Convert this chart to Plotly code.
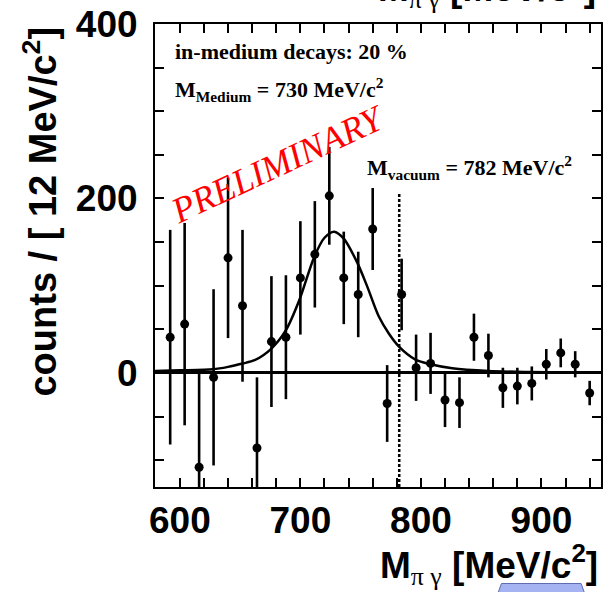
import plotly.graph_objects as go

# ---- data ----
mass = [592, 604, 616, 628, 640, 652, 664, 676, 688, 700, 712, 724, 736, 748, 760,
        772, 784, 796, 808, 820, 832, 844, 856, 868, 880, 892, 904, 916, 928, 940]
counts = [41, 56, -108, -5, 132, 77, -86, 36, 41, 109, 136, 203, 109, 90, 165,
          -35, 90, 6, 11, -31, -34, 41, 20, -17, -15, -12, 10, 23, 10, -23]
errors = [123, 116, 108, 101, 92, 87, 81, 75, 71, 65, 61, 56, 53, 49, 47,
          44, 41, 38, 35, 31, 29, 27, 25, 23, 21, 19.5, 17.5, 16.5, 15, 14]

fit_x = [579.4, 600, 627.5, 640, 652, 662, 676, 688, 699, 711.5, 720, 728, 736,
         747, 755.5, 765, 773.5, 782, 795.5, 808, 826, 856, 889, 920, 949.4]
fit_y = [2.3, 3.0, 4.2, 7.0, 10.8, 14.6, 28, 49, 83, 133, 155, 162, 154,
         127, 99, 65, 45, 30, 15.4, 10, 5.4, 2.3, 1.1, 0.6, 0.4]

m_vacuum = 782
x_ticks = [600, 700, 800, 900]
y_ticks = [0, 200, 400]

# ---- geometry helpers (pixel -> paper) ----
L, T, W, H = 155, 24, 448, 463
def px(xp):
    return (xp - L) / W
def py(yp):
    return (T + H - yp) / H

fig = go.Figure()

fig.add_trace(go.Scatter(
    x=fit_x, y=fit_y, mode="lines", line=dict(color="black", width=2.5, shape="spline", smoothing=0.8),
    hoverinfo="skip", showlegend=False))

fig.add_trace(go.Scatter(
    x=mass, y=counts, mode="markers",
    marker=dict(color="black", size=9),
    error_y=dict(type="data", array=errors, color="black", thickness=2.6, width=0),
    showlegend=False))

# dotted vacuum mass line
fig.add_shape(type="line", xref="x", yref="y", x0=m_vacuum, x1=m_vacuum, y0=-130.7, y1=205.7,
              line=dict(color="black", width=2.5, dash="3px,2px"))

serif = "Liberation Serif"
sans = "Liberation Sans"

ann = []
ann.append(dict(text="in-medium decays: 20 %", x=px(173), y=py(51), xanchor="left", yanchor="middle",
                font=dict(family=serif, size=22, color="black", weight="bold")))
ann.append(dict(text="M<sub>Medium</sub> = 730 MeV/c<sup>2</sup>", x=px(173), y=py(89), xanchor="left", yanchor="middle",
                font=dict(family=serif, size=22, color="black", weight="bold")))
ann.append(dict(text="M<sub>vacuum</sub> = 782 MeV/c<sup>2</sup>", x=px(366), y=py(167), xanchor="left", yanchor="middle",
                font=dict(family=serif, size=22, color="black", weight="bold")))
ann.append(dict(text="PRELIMINARY", x=px(279), y=py(164), xanchor="center", yanchor="middle", textangle=-25,
                font=dict(family=serif, size=36, color="#ff0000", style="italic")))
ann.append(dict(text="counts / [ 12 MeV/c<sup>2</sup>]", x=px(40), y=py(212), xanchor="center", yanchor="middle",
                textangle=-90, font=dict(family=sans, size=38, color="black", weight="bold")))
xtitle = 'M<sub><span style="font-family:Liberation Serif;font-weight:normal">π γ</span></sub> [MeV/c<sup>2</sup>]'
ann.append(dict(text=xtitle, x=px(602), y=py(593), xanchor="right", yanchor="bottom",
                font=dict(family=sans, size=37, color="black", weight="bold")))
ann.append(dict(text=xtitle, x=px(600), y=py(593 - 577), xanchor="right", yanchor="bottom",
                font=dict(family=sans, size=37, color="black", weight="bold")))
for a in ann:
    a.update(xref="paper", yref="paper", showarrow=False)

# blue fragment at the bottom
fig.add_shape(type="path", xref="paper", yref="paper",
              path=f"M {px(503)} {py(583.5)} L {px(583)} {py(583.5)} L {px(589)} {py(600)} L {px(497)} {py(600)} Z",
              fillcolor="#a5b3f3", line=dict(color="#5d6db0", width=1), layer="above")

axis_common = dict(showline=True, linecolor="black", linewidth=2, mirror="ticks",
                   ticks="inside", ticklen=9, tickwidth=1.5, tickcolor="black",
                   showgrid=False,
                   tickfont=dict(family=sans, size=37, color="black", weight="bold"))

fig.update_xaxes(range=[579.4, 949.4], tickvals=x_ticks, zeroline=False,
                 minor=dict(dtick=20, tick0=600, ticks="inside", ticklen=9, tickwidth=1.5, tickcolor="black"),
                 ticklabelstandoff=0, **axis_common)
fig.update_yaxes(range=[-130.7, 400], tickvals=y_ticks, zeroline=True, zerolinecolor="black", zerolinewidth=3,
                 minor=dict(dtick=50, tick0=0, ticks="inside", ticklen=9, tickwidth=1.5, tickcolor="black"),
                 ticklabelstandoff=8, **axis_common)

fig.update_layout(width=603, height=592, margin=dict(l=L, r=603 - L - W, t=T, b=592 - T - H, pad=0),
                  paper_bgcolor="white", plot_bgcolor="white", annotations=ann, showlegend=False)

fig.write_html("out.html", config={"displayModeBar": False},
               post_script="document.body.style.margin='0px';document.body.style.overflow='hidden';")
